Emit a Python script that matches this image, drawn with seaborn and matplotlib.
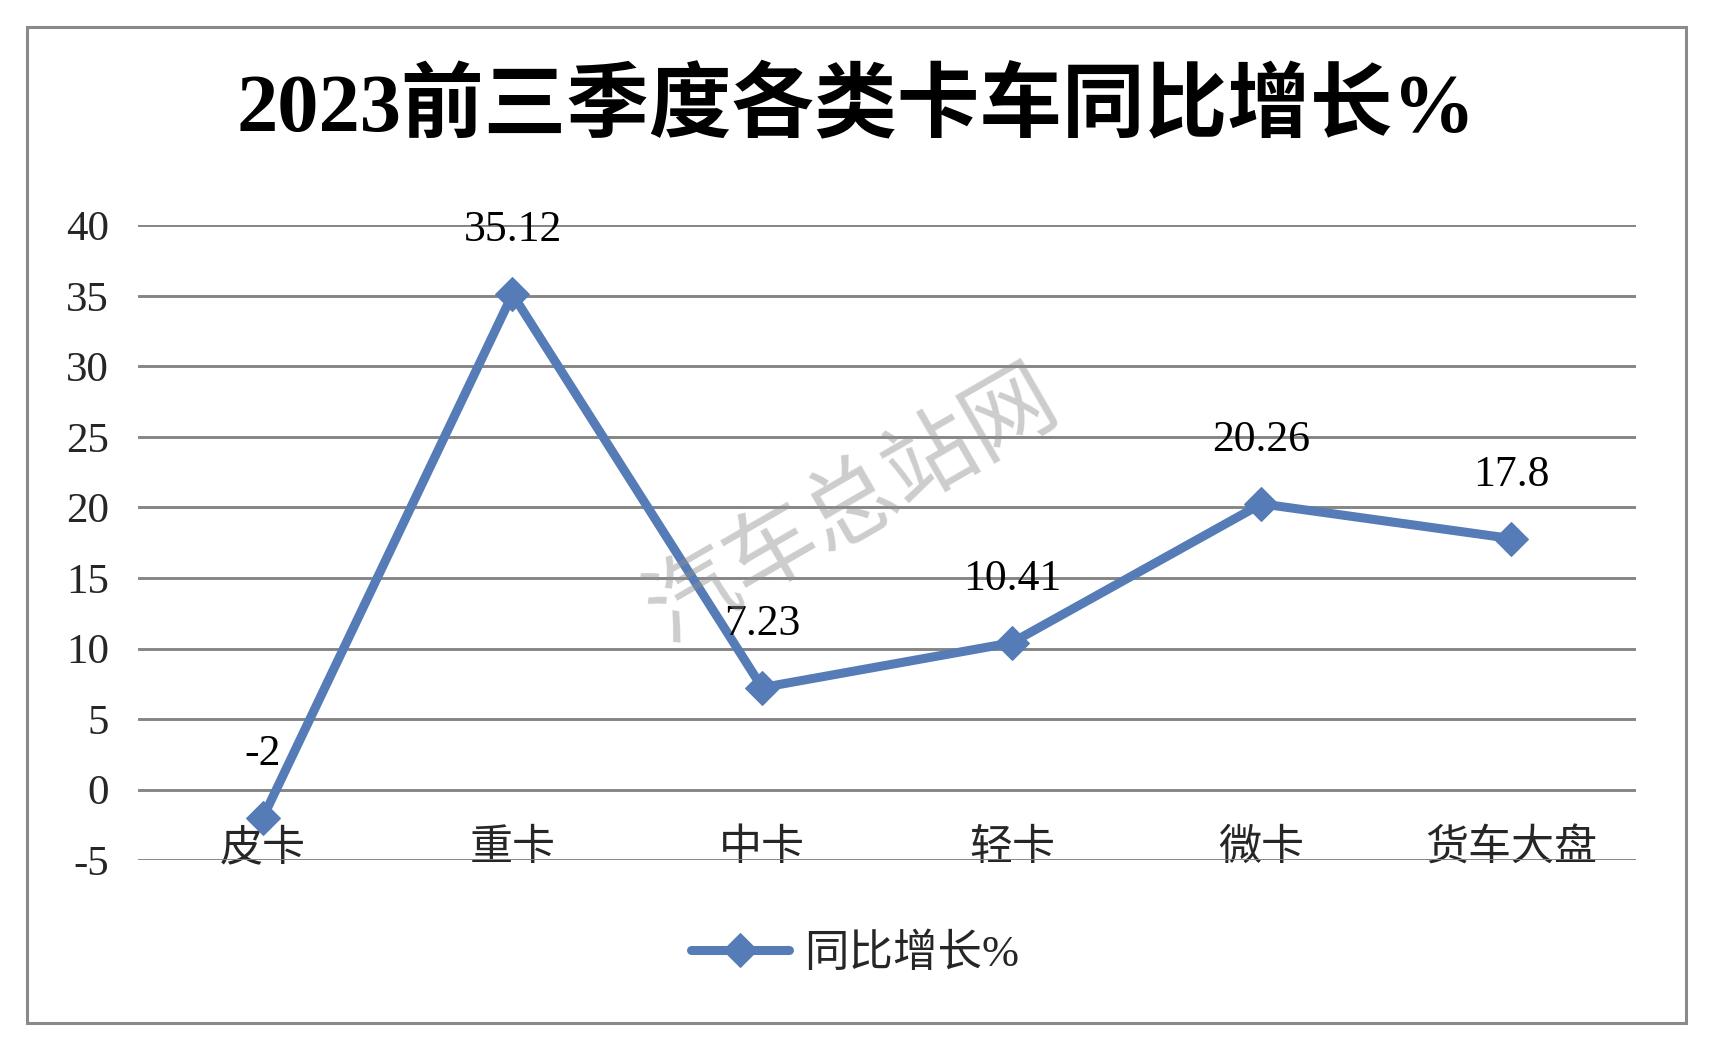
import matplotlib.pyplot as plt
import matplotlib.patches as patches
import seaborn as sns

categories = ["皮卡", "重卡", "中卡", "轻卡", "微卡", "货车大盘"]
growth = [-2, 35.12, 7.23, 10.41, 20.26, 17.8]
value_labels = ["-2", "35.12", "7.23", "10.41", "20.26", "17.8"]
y_ticks = [-5, 0, 5, 10, 15, 20, 25, 30, 35, 40]

sns.set_style("white")
plt.rcParams["font.family"] = ["Liberation Serif", "Noto Sans CJK SC", "DejaVu Sans"]

fig = plt.figure(figsize=(17.25, 10.58), dpi=100)
ax = fig.add_axes([0.08, 0.1871, 0.8684, 0.5998])

blue = "#557CB6"
sns.lineplot(x=categories, y=growth, ax=ax, color=blue, linewidth=6.5,
             marker="D", markersize=17, markeredgecolor=blue,
             label="同比增长%", zorder=3, sort=False)

for i, (v, s) in enumerate(zip(growth, value_labels)):
    ax.annotate(s, (i, v), xytext=(0, 46), textcoords="offset points",
                ha="center", va="center", fontsize=31.5, color="black")

ax.set_xlim(-0.5, 5.5)
ax.set_ylim(-5, 40)
ax.set_yticks(y_ticks)
ax.set_yticklabels([str(t) for t in y_ticks], fontsize=31)
ax.set_xticks(range(len(categories)))
ax.set_xticklabels(categories, fontsize=31)
ax.tick_params(axis="y", length=0, pad=21)
ax.tick_params(axis="x", length=0, pad=-22)
ax.grid(axis="y", color="#858585", linewidth=2.1)
ax.grid(axis="x", visible=False)
ax.set_axisbelow(True)
for sp in ax.spines.values():
    sp.set_visible(False)
ax.set_xlabel("")
ax.set_ylabel("")

leg = ax.legend(loc="center", bbox_to_anchor=(0.4957, 0.0983),
                bbox_transform=fig.transFigure, frameon=False,
                fontsize=32, handlelength=2.2, handletextpad=0.35)

fig.text(0.4965, 0.896, "2023前三季度各类卡车同比增长%", ha="center", va="center",
         fontsize=59.5, fontweight="bold", color="black")

# watermark
fig.text(0.494, 0.522, "汽车总站网", ha="center", va="center", fontsize=66,
         rotation=30, color="#8f8f8f", alpha=0.45, zorder=10,
         family=["Noto Sans CJK SC"])

fig.patches.append(patches.Rectangle((27 / 1725, 1 - 1023 / 1058),
                                     (1686 - 27) / 1725, (1023 - 27) / 1058,
                                     transform=fig.transFigure, fill=False,
                                     edgecolor="#8a8a8a", linewidth=2.2))

fig.savefig("out.png", dpi=100, facecolor="white")
